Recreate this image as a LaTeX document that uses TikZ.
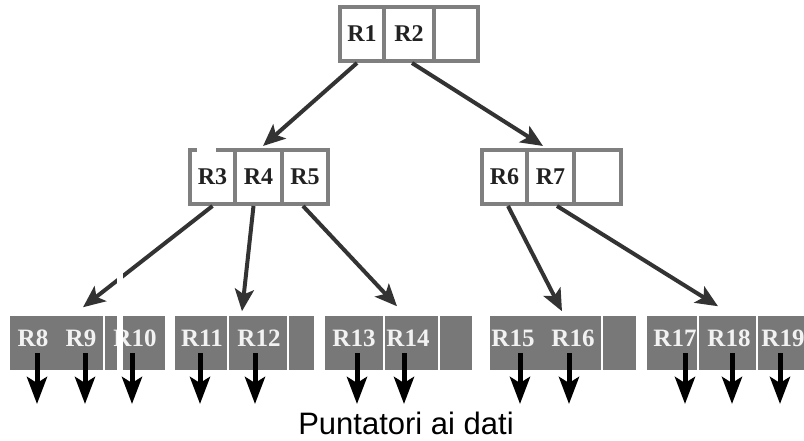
\documentclass[tikz,border=0pt]{standalone}
\usepackage{fontspec}
\setmainfont{Liberation Serif}
\newfontfamily\labelfont{Liberation Sans}
\usetikzlibrary{arrows.meta}
\definecolor{boxline}{HTML}{7F7F7F}
\definecolor{leaffill}{HTML}{787878}
\definecolor{linkcol}{HTML}{333333}
\definecolor{keytext}{HTML}{222222}

\begin{document}
\begin{tikzpicture}[x=1pt,y=-1pt,
  keycell/.style={draw=boxline, line width=4pt, minimum height=54pt,
    inner sep=0pt, font=\fontsize{24}{24}\selectfont\bfseries, text=keytext},
  leafcell/.style={fill=leaffill, draw=white, line width=1.5pt,
    minimum height=56pt, inner sep=0pt},
  leafkey/.style={inner sep=0pt, font=\fontsize{25}{25}\selectfont\bfseries,
    text=white!95!black},
  link/.style={draw=linkcol, line width=4pt,
    -{Stealth[length=22pt,width=19pt,inset=5pt]}},
  ptr/.style={draw=black, line width=5pt,
    -{Stealth[length=27pt,width=20pt,inset=6pt]}}
]
\useasboundingbox (0,0) rectangle (804,441);
\clip (0,0) rectangle (804,441);

% root
\node[keycell, minimum width=44pt] (r1) at (362,34) {R1};
\node[keycell, minimum width=50pt] (r2) at (409,34) {R2};
\node[keycell, minimum width=44pt] (r0) at (456,34) {};

% second level, left
\node[keycell, minimum width=45pt] (m3) at (212.5,177) {R3};
\node[keycell, minimum width=47pt] (m4) at (258.5,177) {R4};
\node[keycell, minimum width=46pt] (m5) at (305,177) {R5};

% second level, right
\node[keycell, minimum width=45pt] (m6) at (504.5,177) {R6};
\node[keycell, minimum width=47pt] (m7) at (550.5,177) {R7};
\node[keycell, minimum width=47pt] (m0) at (597.5,177) {};

% leaves
\node[leafcell, minimum width=95pt]  (l89)   at (56.5,343) {};
\node[leafcell, minimum width=62pt]  (l10)   at (135,343) {};
\node[leafcell, minimum width=54pt]  (l11)   at (201,343) {};
\node[leafcell, minimum width=60pt]  (l12)   at (258,343) {};
\node[leafcell, minimum width=27pt]  (l2e)   at (301.5,343) {};
\node[leafcell, minimum width=60pt]  (l13)   at (354,343) {};
\node[leafcell, minimum width=55pt]  (l14)   at (411.5,343) {};
\node[leafcell, minimum width=34pt]  (l3e)   at (456,343) {};
\node[leafcell, minimum width=113pt] (l1516) at (545.5,343) {};
\node[leafcell, minimum width=35pt]  (l4e)   at (619.5,343) {};
\node[leafcell, minimum width=52pt]  (l17)   at (672,343) {};
\node[leafcell, minimum width=59pt]  (l18)   at (727.5,343) {};
\node[leafcell, minimum width=55pt]  (l19)   at (784.5,343) {};

% leaf keys
\foreach \k/\x in {8/33, 9/81, 10/135, 11/202, 12/259, 13/354, 14/408,
                   15/513, 16/573, 17/675, 18/729, 19/783}
  \node[leafkey] (t\k) at (\x,338) {R\k};

% tree links
\draw[link] ([xshift=-5pt]r1.south) -- ([xshift=4.5pt,yshift=2pt]m4.north);
\draw[link] ([xshift=3pt]r2.south) -- ([xshift=-7.5pt,yshift=2pt]m7.north);
\draw[link] (m3.south) -- ([xshift=26.5pt,yshift=7pt]l89.north);
\draw[link] ([xshift=-5pt]m4.south) -- ([xshift=-16pt,yshift=3pt]l12.north);
\draw[link] ([xshift=-2pt]m5.south) -- ([xshift=-14.5pt,yshift=8pt]l14.north);
\draw[link] ([xshift=3.5pt]m6.south) -- ([xshift=16.5pt,yshift=3pt]l1516.north);
\draw[link] ([xshift=6.5pt]m7.south) -- ([xshift=-9.5pt,yshift=8pt]l18.north);

% gaps in the drawing
\fill[white] (117,262) rectangle (123,373);
\fill[white] (197,146) rectangle (216,153);

% data pointers
\foreach \x [count=\i] in {37,85,132,200,255,357,404,520,569,685,732,780} {
  \coordinate (ps\i) at (\x,353);
  \coordinate (pe\i) at (\x,404);
  \draw[ptr] (ps\i) -- (pe\i);
}

% caption
\node[font=\labelfont\fontsize{31}{31}\selectfont, anchor=base, inner sep=0pt]
  (cap) at (406,434) {Puntatori ai dati};
\end{tikzpicture}
\end{document}
